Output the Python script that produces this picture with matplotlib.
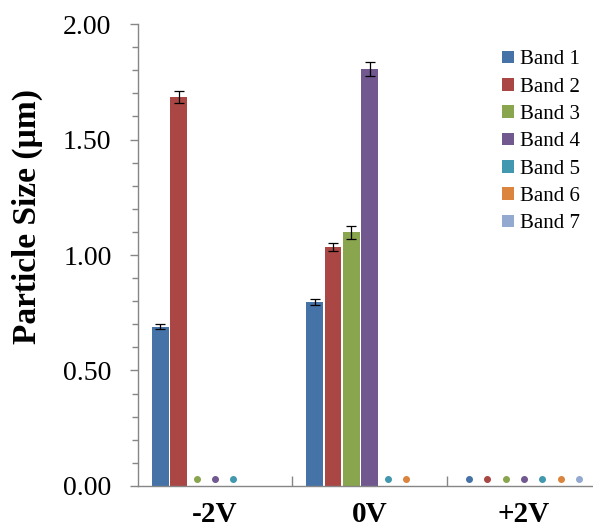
import numpy as np
import matplotlib.pyplot as plt
from matplotlib.patches import Patch
from matplotlib.ticker import MultipleLocator, FormatStrFormatter
from matplotlib.transforms import offset_copy

# Mean particle size (um) per band at each bias voltage, with error
voltages = ['-2V', '0V', '+2V']
bands = ['Band 1', 'Band 2', 'Band 3', 'Band 4', 'Band 5', 'Band 6', 'Band 7']
sizes = np.array([
    [0.690, 1.683, 0.0, 0.0, 0.0, None, None],
    [0.795, 1.033, 1.098, 1.805, 0.0, 0.0, None],
    [0.0, 0.0, 0.0, 0.0, 0.0, 0.0, 0.0],
], dtype=object)
errors = np.array([
    [0.010, 0.025, 0, 0, 0, 0, 0],
    [0.013, 0.017, 0.029, 0.030, 0, 0, 0],
    [0, 0, 0, 0, 0, 0, 0],
])
colors = ['#4572A7', '#AA4643', '#89A54E', '#71588F', '#4198AF', '#DB843D', '#93A9CF']

plt.rcParams['font.family'] = ['Liberation Serif', 'DejaVu Serif']

fig = plt.figure(figsize=(5.93, 5.29), dpi=100)
ax = fig.add_axes([0.2327, 0.0813, 0.781, 0.8733])

x = np.arange(len(voltages))
pitch = 0.1186
width = 0.107
dot_tr = offset_copy(ax.transData, fig=fig, x=0, y=5, units='points')

for i, band in enumerate(bands):
    pos = x + (i - 3) * pitch
    vals = [sizes[g, i] for g in range(len(voltages))]
    # bars for measured values, small dots where the band is present but empty
    bx = [p for p, v in zip(pos, vals) if v is not None and v > 0]
    bv = [v for v in vals if v is not None and v > 0]
    be = [errors[g, i] for g, v in enumerate(vals) if v is not None and v > 0]
    if bx:
        ax.bar(bx, bv, width, color=colors[i], zorder=2)
        ax.errorbar(bx, bv, yerr=be, fmt='none', ecolor='black',
                    elinewidth=0.9, capsize=3.5, capthick=0.9, zorder=3)
    dx = [p for p, v in zip(pos, vals) if v == 0]
    dv = [v for v in vals if v == 0]
    ax.plot(dx, dv, 'o', color=colors[i], markersize=4, transform=dot_tr,
            clip_on=False, zorder=3)

ax.set_xlim(-0.5, 2.5)
ax.set_ylim(0, 2.0)
ax.yaxis.set_major_locator(MultipleLocator(0.5))
ax.yaxis.set_minor_locator(MultipleLocator(0.1))
ax.yaxis.set_major_formatter(FormatStrFormatter('%.2f'))
ax.tick_params(axis='y', which='major', length=6, width=1, color='#868686',
               labelsize=20, pad=13)
ax.tick_params(axis='y', which='minor', length=4, width=1, color='#868686')

ax.set_xticks(x)
ax.set_xticklabels(voltages, fontsize=21, fontweight='bold')
ax.tick_params(axis='x', which='major', length=0, pad=11)
ax.set_xticks([0.5, 1.5], minor=True)
ax.tick_params(axis='x', which='minor', direction='in', length=7, width=1,
               color='#868686')

for side in ['top', 'right']:
    ax.spines[side].set_visible(False)
for side in ['left', 'bottom']:
    ax.spines[side].set_color('#868686')
    ax.spines[side].set_linewidth(1)

ax.set_ylabel('Particle Size (µm)', fontsize=24, fontweight='bold')
ax.yaxis.set_label_coords(-0.205, 0.584)

handles = [Patch(facecolor=c, label=b) for c, b in zip(colors, bands)]
ax.legend(handles=handles, loc='upper left', bbox_to_anchor=(0.769, 0.961),
          frameon=False, fontsize=15, handlelength=0.55, handleheight=0.55,
          handletextpad=0.3, labelspacing=0.4, borderaxespad=0)

fig.savefig('out.png', dpi=100)
